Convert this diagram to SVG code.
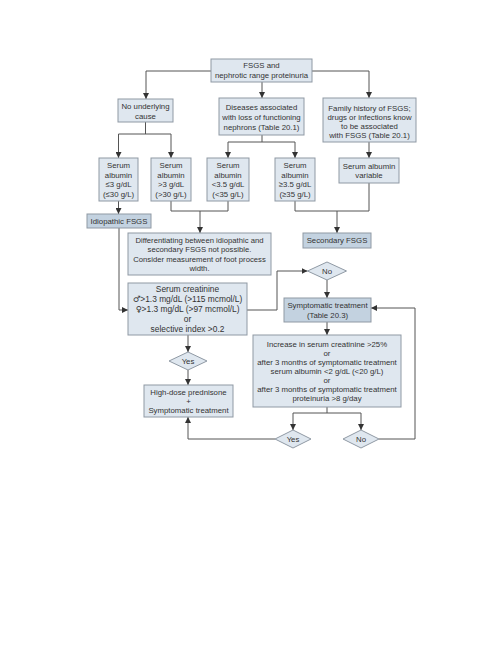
<svg xmlns="http://www.w3.org/2000/svg" width="502" height="650" viewBox="0 0 502 650">
<defs>
<style>
.b{fill:#dfe7ef;stroke:#8f99a4;stroke-width:1}
.d{fill:#c3d2e0;stroke:#8f99a4;stroke-width:1}
.t{font-family:"Liberation Sans",Arial,"DejaVu Sans",sans-serif;font-size:7.8px;fill:#333;text-anchor:middle}
.tm{font-family:"Liberation Sans",Arial,"DejaVu Sans",sans-serif;font-size:7.7px;fill:#333;text-anchor:middle}
.tc{font-family:"Liberation Sans",Arial,"DejaVu Sans",sans-serif;font-size:8.4px;fill:#333;text-anchor:middle}
.sym{font-family:"DejaVu Sans",sans-serif;font-size:8.4px}
.c{fill:none;stroke:#555;stroke-width:1}
</style>
<marker id="ah" markerUnits="userSpaceOnUse" markerWidth="6" markerHeight="6" refX="6" refY="3" orient="auto">
<path d="M0,0 L6,3 L0,6 z" fill="#333"/>
</marker>
</defs>
<rect width="502" height="650" fill="#fff"/>

<g id="connectors">
<path class="c" d="M211,71 H146 V99" marker-end="url(#ah)"/>
<path class="c" d="M312,71 H369 V98" marker-end="url(#ah)"/>
<path class="c" d="M262,82 V98" marker-end="url(#ah)"/>
<path class="c" d="M145.5,122 V134 M118.5,134 H171"/>
<path class="c" d="M118.5,134 V158" marker-end="url(#ah)"/>
<path class="c" d="M171,134 V158" marker-end="url(#ah)"/>
<path class="c" d="M262,135 V142 M228,142 H295"/>
<path class="c" d="M228,142 V158" marker-end="url(#ah)"/>
<path class="c" d="M295,142 V158" marker-end="url(#ah)"/>
<path class="c" d="M369,142 V158" marker-end="url(#ah)"/>
<path class="c" d="M118.5,201 V214" marker-end="url(#ah)"/>
<path class="c" d="M171,201 V211 H228 V201"/>
<path class="c" d="M200,211 V233" marker-end="url(#ah)"/>
<path class="c" d="M295,201 V211 H369 V183"/>
<path class="c" d="M337,211 V233" marker-end="url(#ah)"/>
<path class="c" d="M119,228 V310 H128" marker-end="url(#ah)"/>
<path class="c" d="M247,310 H277 V271 H307.5" marker-end="url(#ah)"/>
<path class="c" d="M327,280 V298" marker-end="url(#ah)"/>
<path class="c" d="M327,322 V335" marker-end="url(#ah)"/>
<path class="c" d="M188,335 V352" marker-end="url(#ah)"/>
<path class="c" d="M188,370 V385" marker-end="url(#ah)"/>
<path class="c" d="M327,407 V413 M293,413 H361"/>
<path class="c" d="M293,413 V430" marker-end="url(#ah)"/>
<path class="c" d="M361,413 V430" marker-end="url(#ah)"/>
<path class="c" d="M275,439 H188 V417" marker-end="url(#ah)"/>
<path class="c" d="M379,439 H415 V308 H371" marker-end="url(#ah)"/>
</g>

<g id="n-top">
<rect class="b" x="211" y="59" width="101" height="23"/>
<text class="t" x="261.5" y="68.3">FSGS and</text>
<text class="t" x="261.5" y="78.3">nephrotic range proteinuria</text>
</g>

<g id="n-nocause">
<rect class="b" x="118" y="99" width="55" height="23"/>
<text class="t" x="145.5" y="108.8">No underlying</text>
<text class="t" x="145.5" y="118.8">cause</text>
</g>

<g id="n-diseases">
<rect class="b" x="219" y="98" width="85" height="37"/>
<text class="t" x="261.5" y="109.8">Diseases associated</text>
<text class="t" x="261.5" y="119.8">with loss of functioning</text>
<text class="t" x="261.5" y="129.8">nephrons (Table 20.1)</text>
</g>

<g id="n-family">
<rect class="b" x="323" y="98" width="93" height="44"/>
<text class="t" x="369.5" y="110.8">Family history of FSGS;</text>
<text class="t" x="369.5" y="119.8">drugs or infections know</text>
<text class="t" x="369.5" y="128.8">to be associated</text>
<text class="t" x="369.5" y="137.8">with FSGS (Table 20.1)</text>
</g>

<g id="n-alb1">
<rect class="b" x="99" y="158" width="39" height="43"/>
<text class="t" x="118.5" y="168">Serum</text>
<text class="t" x="118.5" y="177.5">albumin</text>
<text class="t" x="118.5" y="187">≤3 g/dL</text>
<text class="t" x="118.5" y="196.5">(≤30 g/L)</text>
</g>

<g id="n-alb2">
<rect class="b" x="151" y="158" width="40" height="43"/>
<text class="t" x="171" y="168">Serum</text>
<text class="t" x="171" y="177.5">albumin</text>
<text class="t" x="171" y="187">&gt;3 g/dL</text>
<text class="t" x="171" y="196.5">(&gt;30 g/L)</text>
</g>

<g id="n-alb3">
<rect class="b" x="207" y="158" width="42" height="43"/>
<text class="t" x="228" y="168">Serum</text>
<text class="t" x="228" y="177.5">albumin</text>
<text class="t" x="228" y="187">&lt;3.5 g/dL</text>
<text class="t" x="228" y="196.5">(&lt;35 g/L)</text>
</g>

<g id="n-alb4">
<rect class="b" x="275" y="158" width="40" height="43"/>
<text class="t" x="295" y="168">Serum</text>
<text class="t" x="295" y="177.5">albumin</text>
<text class="t" x="295" y="187">≥3.5 g/dL</text>
<text class="t" x="295" y="196.5">(≥35 g/L)</text>
</g>

<g id="n-alb5">
<rect class="b" x="339" y="158" width="60" height="25"/>
<text class="t" x="369" y="168.8">Serum albumin</text>
<text class="t" x="369" y="178.3">variable</text>
</g>

<g id="n-idio">
<rect class="d" x="87" y="214" width="64" height="14"/>
<text class="t" x="119" y="223.8">Idiopathic FSGS</text>
</g>

<g id="n-secondary">
<rect class="d" x="303" y="233" width="68" height="15"/>
<text class="t" x="337" y="243.3">Secondary FSGS</text>
</g>

<g id="n-diff">
<rect class="b" x="128" y="233" width="143" height="42"/>
<text class="tm" x="199.5" y="242.7">Differentiating between idiopathic and</text>
<text class="tm" x="199.5" y="252.2">secondary FSGS not possible.</text>
<text class="tm" x="199.5" y="261.7">Consider measurement of foot process</text>
<text class="tm" x="199.5" y="271.2">width.</text>
</g>

<g id="n-creat">
<rect class="b" x="128" y="283" width="119" height="52"/>
<text class="tc" x="187.5" y="292">Serum creatinine</text>
<text class="tc" x="187.5" y="302"><tspan class="sym">♂</tspan>&gt;1.3 mg/dL (&gt;115 mcmol/L)</text>
<text class="tc" x="187.5" y="312"><tspan class="sym">♀</tspan>&gt;1.3 mg/dL (&gt;97 mcmol/L)</text>
<text class="tc" x="187.5" y="322">or</text>
<text class="tc" x="187.5" y="332">selective index &gt;0.2</text>
</g>

<g id="n-no1">
<polygon class="b" points="307.5,271 327,262 346.5,271 327,280"/>
<text class="t" x="327" y="273.8">No</text>
</g>

<g id="n-sympt">
<rect class="d" x="284" y="298" width="87" height="24"/>
<text class="t" x="327.5" y="307.8">Symptomatic treatment</text>
<text class="t" x="327.5" y="318.3">(Table 20.3)</text>
</g>

<g id="n-yes1">
<polygon class="b" points="169,361 188,352 207,361 188,370"/>
<text class="t" x="188" y="363.8">Yes</text>
</g>

<g id="n-increase">
<rect class="b" x="253" y="335" width="148" height="72"/>
<text class="t" x="327" y="346.8">Increase in serum creatinine &gt;25%</text>
<text class="t" x="327" y="355.8">or</text>
<text class="t" x="327" y="364.8">after 3 months of symptomatic treatment</text>
<text class="t" x="327" y="373.8">serum albumin &lt;2 g/dL (&lt;20 g/L)</text>
<text class="t" x="327" y="382.8">or</text>
<text class="t" x="327" y="391.8">after 3 months of symptomatic treatment</text>
<text class="t" x="327" y="400.8">proteinuria &gt;8 g/day</text>
</g>

<g id="n-highdose">
<rect class="b" x="144" y="385" width="89" height="32"/>
<text class="t" x="188.5" y="394.8">High-dose prednisone</text>
<text class="t" x="188.5" y="403.8">+</text>
<text class="t" x="188.5" y="412.8">Symptomatic treatment</text>
</g>

<g id="n-yes2">
<polygon class="b" points="275,439 293,430 311,439 293,448"/>
<text class="t" x="293" y="441.8">Yes</text>
</g>

<g id="n-no2">
<polygon class="b" points="343,439 361,430 379,439 361,448"/>
<text class="t" x="361" y="441.8">No</text>
</g>
</svg>
